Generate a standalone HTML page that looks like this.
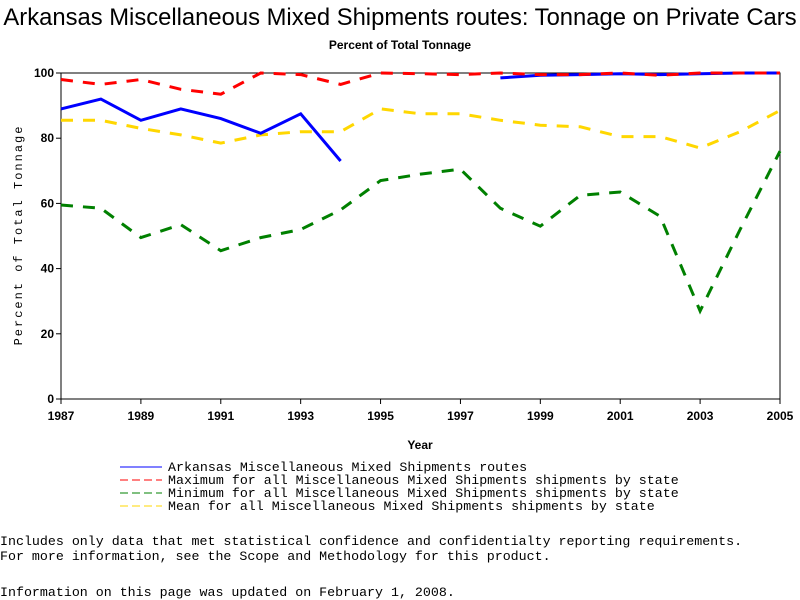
<!DOCTYPE html>
<html><head><meta charset="utf-8"><style>
body{margin:0;background:#fff;width:800px;height:600px;overflow:hidden;position:relative;font-family:"Liberation Sans",sans-serif}
.t{position:absolute;white-space:pre}
.m{font-family:"Liberation Mono",monospace;font-size:13.3px}
</style></head><body>
<div class="t" style="left:0;top:4px;width:800px;text-align:center;font-size:23.8px">Arkansas Miscellaneous Mixed Shipments routes: Tonnage on Private Cars</div>
<div class="t" style="left:0;top:38px;width:800px;text-align:center;font-size:12px;font-weight:bold">Percent of Total Tonnage</div>
<svg id="chart" width="800" height="600" style="position:absolute;left:0;top:0"></svg>
<div class="t m" style="left:168px;top:460px">Arkansas Miscellaneous Mixed Shipments routes</div>
<div class="t m" style="left:168px;top:473px">Maximum for all Miscellaneous Mixed Shipments shipments by state</div>
<div class="t m" style="left:168px;top:486px">Minimum for all Miscellaneous Mixed Shipments shipments by state</div>
<div class="t m" style="left:168px;top:499px">Mean for all Miscellaneous Mixed Shipments shipments by state</div>
<div class="t m" style="left:0;top:534px">Includes only data that met statistical confidence and confidentialty reporting requirements.
For more information, see the Scope and Methodology for this product.</div>
<div class="t m" style="left:0;top:585px">Information on this page was updated on February 1, 2008.</div>
<script>
const years=[1987,1988,1989,1990,1991,1992,1993,1994,1995,1996,1997,1998,1999,2000,2001,2002,2003,2004,2005];
const arkansas=[89,92,85.5,89,86,81.5,87.5,73,null,null,null,98.5,99.3,99.5,99.8,99.5,99.8,100,100];
const maximum=[98,96.5,98,95,93.5,100,99.5,96.5,100,99.8,99.5,100,99.5,99.5,100,99.3,100,100,100];
const minimum=[59.5,58.5,49.5,53.5,45.5,49.5,52,58,67,69,70.5,58.5,53,62.5,63.5,56,27,52,76];
const mean=[85.5,85.5,83,81,78.5,81,82,82,89,87.5,87.5,85.5,84,83.5,80.5,80.5,77,82,88.5];
const yTicks=[0,20,40,60,80,100];
const xTicks=[1987,1989,1991,1993,1995,1997,1999,2001,2003,2005];
const NS="http://www.w3.org/2000/svg",svg=document.getElementById('chart');
const L=61,R=780,T=73,B=399;
const x=v=>L+(v-1987)/(2005-1987)*(R-L);
const y=v=>B-v/100*(B-T);
function mk(tag,a){const e=document.createElementNS(NS,tag);for(const k in a)e.setAttribute(k,a[k]);svg.appendChild(e);return e;}
const frame=mk('rect',{x:L,y:T,width:R-L,height:B-T,fill:'none',stroke:'#000','stroke-width':1});


yTicks.forEach(v=>{
  const tk=mk('line',{x1:L-5,x2:L,y1:y(v),y2:y(v),stroke:'#000'});
  
  
  const t=mk('text',{x:L-7,y:y(v)+4,'text-anchor':'end','font-size':'12','font-weight':'bold','font-family':'Liberation Sans, sans-serif'});
  t.textContent=v;
  
  
});
xTicks.forEach(v=>{
  const tk=mk('line',{x1:x(v),x2:x(v),y1:B,y2:B+5,stroke:'#000'});
  
  
  const t=mk('text',{x:x(v),y:B+21,'text-anchor':'middle','font-size':'12','font-weight':'bold','font-family':'Liberation Sans, sans-serif'});
  t.textContent=v;
  
  
});
const xt=mk('text',{x:420,y:449,'text-anchor':'middle','font-size':'12','font-weight':'bold','font-family':'Liberation Sans, sans-serif'});
xt.textContent='Year';


const yt=mk('text',{x:0,y:0,transform:'translate(22,235) rotate(-90)','text-anchor':'middle','font-size':'12','letter-spacing':'2','font-family':'Liberation Mono, monospace'});
yt.textContent='Percent of Total Tonnage';


function series(data,color,dash,name){
  let d='',pen=false;
  data.forEach((v,i)=>{if(v===null){pen=false;return;}d+=(pen?'L':'M')+x(years[i]).toFixed(1)+' '+y(v).toFixed(1)+' ';pen=true;});
  const p=mk('path',{d:d,fill:'none',stroke:color,'stroke-width':3,'stroke-dasharray':dash||'none'});
  
  
}
series(mean,'#ffd700','12 10','mean-line');
series(minimum,'#008000','12 10','minimum-line');
series(arkansas,'#0000ff',null,'arkansas-line');
series(maximum,'#ff0000','12 10','maximum-line');
function leg(yy,color,dash,name){
  const l=mk('line',{x1:120,x2:162,y1:yy,y2:yy,stroke:color,'stroke-width':1,'stroke-dasharray':dash||'none'});
  
  
}
leg(467,'#0000ff',null,'legend-swatch-arkansas');
leg(480,'#ff0000','8 4','legend-swatch-maximum');
leg(493,'#008000','8 4','legend-swatch-minimum');
leg(506,'#ffd700','8 4','legend-swatch-mean');
</script>
</body></html>
